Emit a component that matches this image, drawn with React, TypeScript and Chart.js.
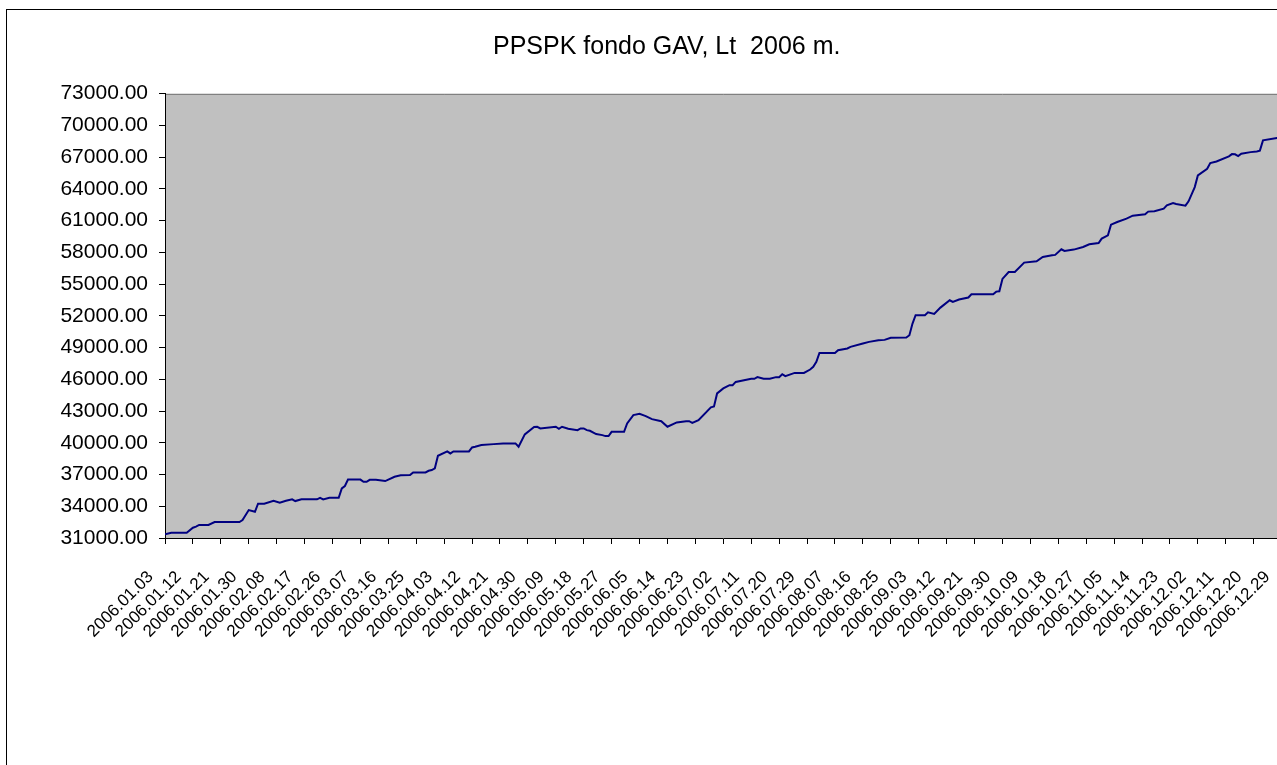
import React, { useEffect, useRef } from "react";
import { Chart, registerables } from "chart.js";

Chart.register(...registerables);

const chartTitle = "PPSPK fondo GAV, Lt  2006 m.";

const dates = [
  "2006.01.03", "2006.01.05", "2006.01.10", "2006.01.12", "2006.01.13", "2006.01.14", "2006.01.17", "2006.01.19",
  "2006.01.27", "2006.01.28", "2006.01.30", "2006.02.01", "2006.02.02", "2006.02.04", "2006.02.07", "2006.02.09",
  "2006.02.11", "2006.02.13", "2006.02.14", "2006.02.16", "2006.02.21", "2006.02.22", "2006.02.23", "2006.02.25",
  "2006.02.28", "2006.03.01", "2006.03.02", "2006.03.03", "2006.03.07", "2006.03.08", "2006.03.09", "2006.03.10",
  "2006.03.12", "2006.03.15", "2006.03.18", "2006.03.20", "2006.03.23", "2006.03.24", "2006.03.28", "2006.03.29",
  "2006.03.30", "2006.03.31", "2006.04.01", "2006.04.04", "2006.04.05", "2006.04.06", "2006.04.11", "2006.04.12",
  "2006.04.13", "2006.04.15", "2006.04.19", "2006.04.22", "2006.04.26", "2006.04.27", "2006.04.29", "2006.05.02",
  "2006.05.03", "2006.05.04", "2006.05.09", "2006.05.10", "2006.05.11", "2006.05.13", "2006.05.16", "2006.05.17",
  "2006.05.18", "2006.05.19", "2006.05.20", "2006.05.22", "2006.05.24", "2006.05.25", "2006.05.26", "2006.05.27",
  "2006.05.31", "2006.06.01", "2006.06.03", "2006.06.05", "2006.06.07", "2006.06.09", "2006.06.12", "2006.06.14",
  "2006.06.17", "2006.06.20", "2006.06.21", "2006.06.22", "2006.06.24", "2006.06.28", "2006.06.29", "2006.06.30",
  "2006.07.02", "2006.07.04", "2006.07.05", "2006.07.06", "2006.07.11", "2006.07.12", "2006.07.13", "2006.07.15",
  "2006.07.17", "2006.07.19", "2006.07.20", "2006.07.21", "2006.07.22", "2006.07.25", "2006.07.28", "2006.07.30",
  "2006.07.31", "2006.08.01", "2006.08.02", "2006.08.07", "2006.08.08", "2006.08.11", "2006.08.12", "2006.08.16",
  "2006.08.18", "2006.08.21", "2006.08.23", "2006.08.25", "2006.08.30", "2006.08.31", "2006.09.01", "2006.09.02",
  "2006.09.05", "2006.09.06", "2006.09.08", "2006.09.10", "2006.09.13", "2006.09.14", "2006.09.16", "2006.09.19",
  "2006.09.20", "2006.09.27", "2006.09.28", "2006.09.29", "2006.09.30", "2006.10.02", "2006.10.04", "2006.10.07",
  "2006.10.11", "2006.10.13", "2006.10.16", "2006.10.17", "2006.10.19", "2006.10.20", "2006.10.23", "2006.10.26",
  "2006.10.28", "2006.10.31", "2006.11.01", "2006.11.03", "2006.11.04", "2006.11.06", "2006.11.09", "2006.11.11",
  "2006.11.15", "2006.11.16", "2006.11.18", "2006.11.21", "2006.11.22", "2006.11.24", "2006.11.25", "2006.11.28",
  "2006.11.29", "2006.12.01", "2006.12.02", "2006.12.05", "2006.12.06", "2006.12.08", "2006.12.12", "2006.12.13",
  "2006.12.14", "2006.12.15", "2006.12.16", "2006.12.19", "2006.12.21", "2006.12.22", "2006.12.23", "2006.12.28",
  "2006.12.29",
];

const values = [
  31350, 31500, 31500, 31970, 32070, 32230, 32230, 32510,
  32510, 32700, 33640, 33480, 34240, 34240, 34520, 34330,
  34520, 34650, 34490, 34650, 34650, 34800, 34650, 34800,
  34800, 35690, 35910, 36520, 36520, 36310, 36310, 36500,
  36500, 36380, 36790, 36920, 36950, 37200, 37200, 37350,
  37420, 37580, 38770, 39180, 38990, 39180, 39180, 39560,
  39620, 39780, 39870, 39940, 39940, 39620, 40790, 41480,
  41510, 41350, 41510, 41320, 41510, 41320, 41190, 41350,
  41350, 41190, 41130, 40820, 40720, 40630, 40630, 41030,
  41030, 41830, 42610, 42730, 42520, 42230, 42040, 41510,
  41920, 42040, 42040, 41880, 42140, 43340, 43420, 44660,
  45130, 45440, 45440, 45750, 46040, 46040, 46200, 46040,
  46040, 46200, 46200, 46480, 46290, 46600, 46600, 46920,
  47170, 47640, 48490, 48490, 48750, 48910, 49060, 49380,
  49530, 49690, 49720, 49920, 49940, 50160, 51260, 52050,
  52050, 52330, 52170, 52770, 53460, 53300, 53530, 53720,
  54030, 54030, 54280, 54310, 55480, 56130, 56130, 57020,
  57150, 57550, 57710, 57750, 58280, 58120, 58250, 58500,
  58750, 58870, 59290, 59600, 60610, 60860, 61170, 61460,
  61580, 61840, 61870, 62120, 62430, 62650, 62560, 62400,
  62810, 64160, 65260, 65890, 66420, 66580, 67060, 67270,
  67250, 67090, 67310, 67460, 67530, 67600, 68570, 68820,
  68880,
];

const tickLabels = [
  "2006.01.03", "2006.01.12", "2006.01.21", "2006.01.30", "2006.02.08", "2006.02.17", "2006.02.26",
  "2006.03.07", "2006.03.16", "2006.03.25", "2006.04.03", "2006.04.12", "2006.04.21", "2006.04.30",
  "2006.05.09", "2006.05.18", "2006.05.27", "2006.06.05", "2006.06.14", "2006.06.23", "2006.07.02",
  "2006.07.11", "2006.07.20", "2006.07.29", "2006.08.07", "2006.08.16", "2006.08.25", "2006.09.03",
  "2006.09.12", "2006.09.21", "2006.09.30", "2006.10.09", "2006.10.18", "2006.10.27", "2006.11.05",
  "2006.11.14", "2006.11.23", "2006.12.02", "2006.12.11", "2006.12.20", "2006.12.29",
];

const yMin = 31000;
const yMax = 73000;
const yStep = 3000;
const dayStep = 9;

const FONT = "'Liberation Sans', Arial, Helvetica, sans-serif";

function dayOf(s: string): number {
  const [y, m, d] = s.split(".").map(Number);
  const [y0, m0, d0] = dates[0].split(".").map(Number);
  return Math.round((Date.UTC(y, m - 1, d) - Date.UTC(y0, m0 - 1, d0)) / 86400000);
}

const backgroundPlugin = {
  id: "excelBackground",
  beforeDraw(chart: any) {
    const { ctx, chartArea } = chart;
    const { left, top, right, bottom } = chartArea;
    ctx.save();
    ctx.fillStyle = "#ffffff";
    ctx.fillRect(0, 0, chart.width, chart.height);
    ctx.strokeStyle = "#000000";
    ctx.lineWidth = 1;
    ctx.strokeRect(6.5, 9.5, chart.width + 100, chart.height + 100);
    ctx.fillStyle = "#c0c0c0";
    ctx.fillRect(left, top, right - left, bottom - top);
    ctx.strokeStyle = "#808080";
    ctx.beginPath();
    ctx.moveTo(left, Math.round(top) + 0.5);
    ctx.lineTo(right, Math.round(top) + 0.5);
    ctx.stroke();
    ctx.restore();
  },
};

export default function App() {
  const canvasRef = useRef<HTMLCanvasElement | null>(null);

  useEffect(() => {
    if (!canvasRef.current) return;
    const lastDay = dayOf(tickLabels[tickLabels.length - 1]);
    const points = dates.map((d, i) => ({ x: dayOf(d), y: values[i] }));
    const chart = new Chart(canvasRef.current, {
      type: "line",
      data: {
        datasets: [
          {
            label: chartTitle,
            data: points,
            borderColor: "#000080",
            borderWidth: 2,
            pointRadius: 0,
            fill: false,
            tension: 0,
          },
        ],
      },
      options: {
        responsive: false,
        animation: false,
        layout: { padding: { left: 51.8, right: 28.4, top: 8, bottom: 0 } },
        plugins: {
          legend: { display: false },
          tooltip: { enabled: false },
          title: {
            display: true,
            text: chartTitle,
            color: "#000000",
            font: { family: FONT, size: 25, weight: "normal" },
            padding: { top: 24.5, bottom: 31 },
          },
        },
        scales: {
          x: {
            type: "linear",
            min: 0,
            max: lastDay,
            afterFit: (s: any) => {
              s.height = 227;
              s.paddingLeft = 0;
              s.paddingRight = 0;
            },
            ticks: {
              stepSize: dayStep,
              autoSkip: false,
              minRotation: 45,
              maxRotation: 45,
              labelOffset: -14.3,
              padding: 23,
              color: "#000000",
              font: { family: FONT, size: 17 },
              callback: (v: any) => tickLabels[Math.round(Number(v) / dayStep)] ?? "",
            },
            grid: { drawOnChartArea: false, drawTicks: true, tickLength: 6, color: "#000000" },
            border: { display: true, color: "#000000", width: 1 },
          },
          y: {
            min: yMin,
            max: yMax,
            afterFit: (s: any) => {
              s.width = 113.2;
            },
            ticks: {
              stepSize: yStep,
              padding: 11,
              color: "#000000",
              font: { family: FONT, size: 21 },
              callback: (v: any) => Number(v).toFixed(2),
            },
            grid: { drawOnChartArea: false, drawTicks: true, tickLength: 6, color: "#000000" },
            border: { display: true, color: "#000000", width: 1 },
          },
        },
      },
      plugins: [backgroundPlugin],
    });
    return () => chart.destroy();
  }, []);

  return (
    <div
      style={{
        position: "fixed",
        left: 0,
        top: 0,
        width: 1277,
        height: 765,
        overflow: "hidden",
        background: "#ffffff",
      }}
    >
      <canvas
        ref={canvasRef}
        width={1310}
        height={765}
        style={{ position: "absolute", left: 0, top: 0, width: 1310, height: 765 }}
      />
    </div>
  );
}
